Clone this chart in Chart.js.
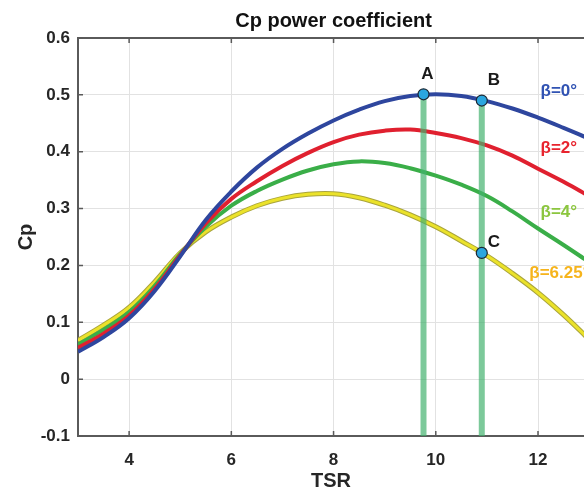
<!DOCTYPE html>
<html>
<head>
<meta charset="utf-8">
<title>Cp power coefficient</title>
<script src="https://cdn.jsdelivr.net/npm/chart.js@4.4.0/dist/chart.umd.min.js"></script>
<style>
  html, body { margin: 0; padding: 0; background: #fff; overflow: hidden; }
  canvas { display: block; }
</style>
</head>
<body>
<canvas id="cp" width="584" height="493"></canvas>
<script>
// values
const tsr       = [3, 3.5, 4, 4.5, 5, 5.5, 6, 6.5, 7, 7.5, 8, 8.5, 9, 9.5, 10, 10.5, 11, 11.5, 12, 12.5, 13];
const cpBeta0   = [0.048, 0.074, 0.107, 0.155, 0.216, 0.280, 0.330, 0.372, 0.405, 0.432, 0.455, 0.474, 0.489, 0.498, 0.501, 0.498, 0.489, 0.476, 0.460, 0.442, 0.423];
const cpBeta2   = [0.055, 0.080, 0.112, 0.159, 0.218, 0.274, 0.317, 0.348, 0.375, 0.398, 0.417, 0.430, 0.437, 0.439, 0.433, 0.424, 0.411, 0.393, 0.370, 0.347, 0.322];
const cpBeta4   = [0.061, 0.087, 0.118, 0.164, 0.220, 0.268, 0.305, 0.331, 0.351, 0.367, 0.378, 0.383, 0.380, 0.371, 0.358, 0.342, 0.322, 0.295, 0.265, 0.236, 0.206];
const cpBeta625 = [0.068, 0.095, 0.126, 0.171, 0.222, 0.259, 0.285, 0.305, 0.318, 0.325, 0.326, 0.319, 0.306, 0.289, 0.268, 0.243, 0.217, 0.186, 0.152, 0.113, 0.070];
const seriesNames = ['β=0°', 'β=2°', 'β=4°', 'β=6.25°'];

const markNames = ['A', 'B', 'C'];
const markTsr   = [9.76, 10.9, 10.9];
const markCp    = [0.501, 0.490, 0.222];

const xTicks = [4, 6, 8, 10, 12];
const yTicks = [-0.1, 0, 0.1, 0.2, 0.3, 0.4, 0.5, 0.6];

const FONT = "'Liberation Sans', Arial, Helvetica, sans-serif";
const pts = (ys) => tsr.map((t, i) => ({ x: t, y: ys[i] }));

const curve = (label, ys, color, width) => ({
  label, data: pts(ys), borderColor: color, borderWidth: width,
  pointRadius: 0, tension: 0.4, fill: false
});

// vertical bars from the bottom of the axis up to A and B
const bars = [0, 1].map(i => ({
  label: 'bar ' + markNames[i],
  data: [{ x: markTsr[i], y: yTicks[0] }, { x: markTsr[i], y: markCp[i] }],
  borderColor: 'rgba(69,178,111,0.7)', borderWidth: 6, pointRadius: 0, borderCapStyle: 'butt'
}));

const frame = {
  id: 'frame',
  beforeDatasetsDraw(chart) {
    const { ctx, chartArea: a, scales: { x, y } } = chart;
    ctx.save();
    ctx.strokeStyle = '#5a5a5a';
    ctx.lineWidth = 2;
    ctx.beginPath();
    ctx.moveTo(a.left, a.top); ctx.lineTo(a.right, a.top);
    ctx.stroke();
    ctx.lineWidth = 1.5;
    ctx.beginPath();
    xTicks.forEach(v => {
      const px = x.getPixelForValue(v);
      ctx.moveTo(px, a.top); ctx.lineTo(px, a.top + 5);
      ctx.moveTo(px, a.bottom); ctx.lineTo(px, a.bottom - 5);
    });
    yTicks.forEach(v => {
      const py = y.getPixelForValue(v);
      ctx.moveTo(a.left, py); ctx.lineTo(a.left + 5, py);
    });
    ctx.stroke();
    ctx.restore();
  }
};

const labels = {
  id: 'labels',
  afterDatasetsDraw(chart) {
    const { ctx, chartArea: a, scales: { x, y } } = chart;
    ctx.save();
    ctx.textBaseline = 'middle';

    // title, centred on the full plot box (x 3..13)
    ctx.fillStyle = '#111';
    ctx.font = 'bold 20px ' + FONT;
    ctx.textAlign = 'center';
    ctx.fillText('Cp power coefficient', (a.left + x.getPixelForValue(13)) / 2, 21);

    // point letters
    ctx.font = 'bold 17px ' + FONT;
    ctx.fillStyle = '#1a1a1a';
    const off = [[4, -20], [12, -20], [12, -11]];
    markNames.forEach((n, i) => {
      ctx.fillText(n, x.getPixelForValue(markTsr[i]) + off[i][0], y.getPixelForValue(markCp[i]) + off[i][1]);
    });

    // curve names
    ctx.textAlign = 'left';
    const nameColors = ['#3153b3', '#e8242e', '#8cc63f', '#f6b41c'];
    const nameAt = [[12.05, 0.506], [12.05, 0.406], [12.05, 0.294], [11.83, 0.186]];
    seriesNames.forEach((n, i) => {
      ctx.fillStyle = nameColors[i];
      ctx.fillText(n, x.getPixelForValue(nameAt[i][0]), y.getPixelForValue(nameAt[i][1]));
    });
    ctx.restore();
  }
};

const tickFont = { family: FONT, size: 17, weight: 'bold' };

new Chart(document.getElementById('cp'), {
  type: 'line',
  data: {
    datasets: [
      {
        label: 'points',
        data: markTsr.map((t, i) => ({ x: t, y: markCp[i] })),
        showLine: false, pointRadius: 5.5, pointBackgroundColor: '#2aa6df',
        pointBorderColor: '#1b2733', pointBorderWidth: 1.2
      },
      ...bars,
      curve(seriesNames[0], cpBeta0, '#2e469e', 4),
      curve(seriesNames[1], cpBeta2, '#e0202f', 4),
      curve(seriesNames[2], cpBeta4, '#3aae48', 4),
      curve(seriesNames[3], cpBeta625, '#ebe22a', 3),
      curve(seriesNames[3] + ' edge', cpBeta625, '#a9a43c', 5)
    ]
  },
  options: {
    responsive: false,
    animation: false,
    layout: { autoPadding: false, padding: { top: 38, right: 0, bottom: 0, left: 0 } },
    plugins: { legend: { display: false }, tooltip: { enabled: false }, title: { display: false } },
    scales: {
      x: {
        type: 'linear', min: 3, max: 12.9,
        afterBuildTicks: s => { s.ticks = xTicks.map(v => ({ value: v })); },
        afterFit: s => { s.height = 57; s.paddingRight = 0; },
        grid: { color: '#e2e2e2', drawTicks: false },
        border: { color: '#5a5a5a', width: 2 },
        ticks: { font: tickFont, color: '#262626', padding: 14, maxRotation: 0 },
        title: { display: true, text: 'TSR', font: { family: FONT, size: 20, weight: 'bold' }, color: '#262626', padding: { top: 0, bottom: 0 } }
      },
      y: {
        type: 'linear', min: -0.1, max: 0.6,
        afterBuildTicks: s => { s.ticks = yTicks.map(v => ({ value: v })); },
        afterFit: s => { s.width = 78; },
        grid: { color: '#e2e2e2', drawTicks: false },
        border: { color: '#5a5a5a', width: 2 },
        ticks: { font: tickFont, color: '#262626', padding: 8, callback: v => (v === 0 ? '0' : v.toFixed(1)) },
        title: { display: true, text: 'Cp', font: { family: FONT, size: 20, weight: 'bold' }, color: '#262626', padding: { top: 14, bottom: 0 } }
      }
    }
  },
  plugins: [frame, labels]
});
</script>
</body>
</html>
